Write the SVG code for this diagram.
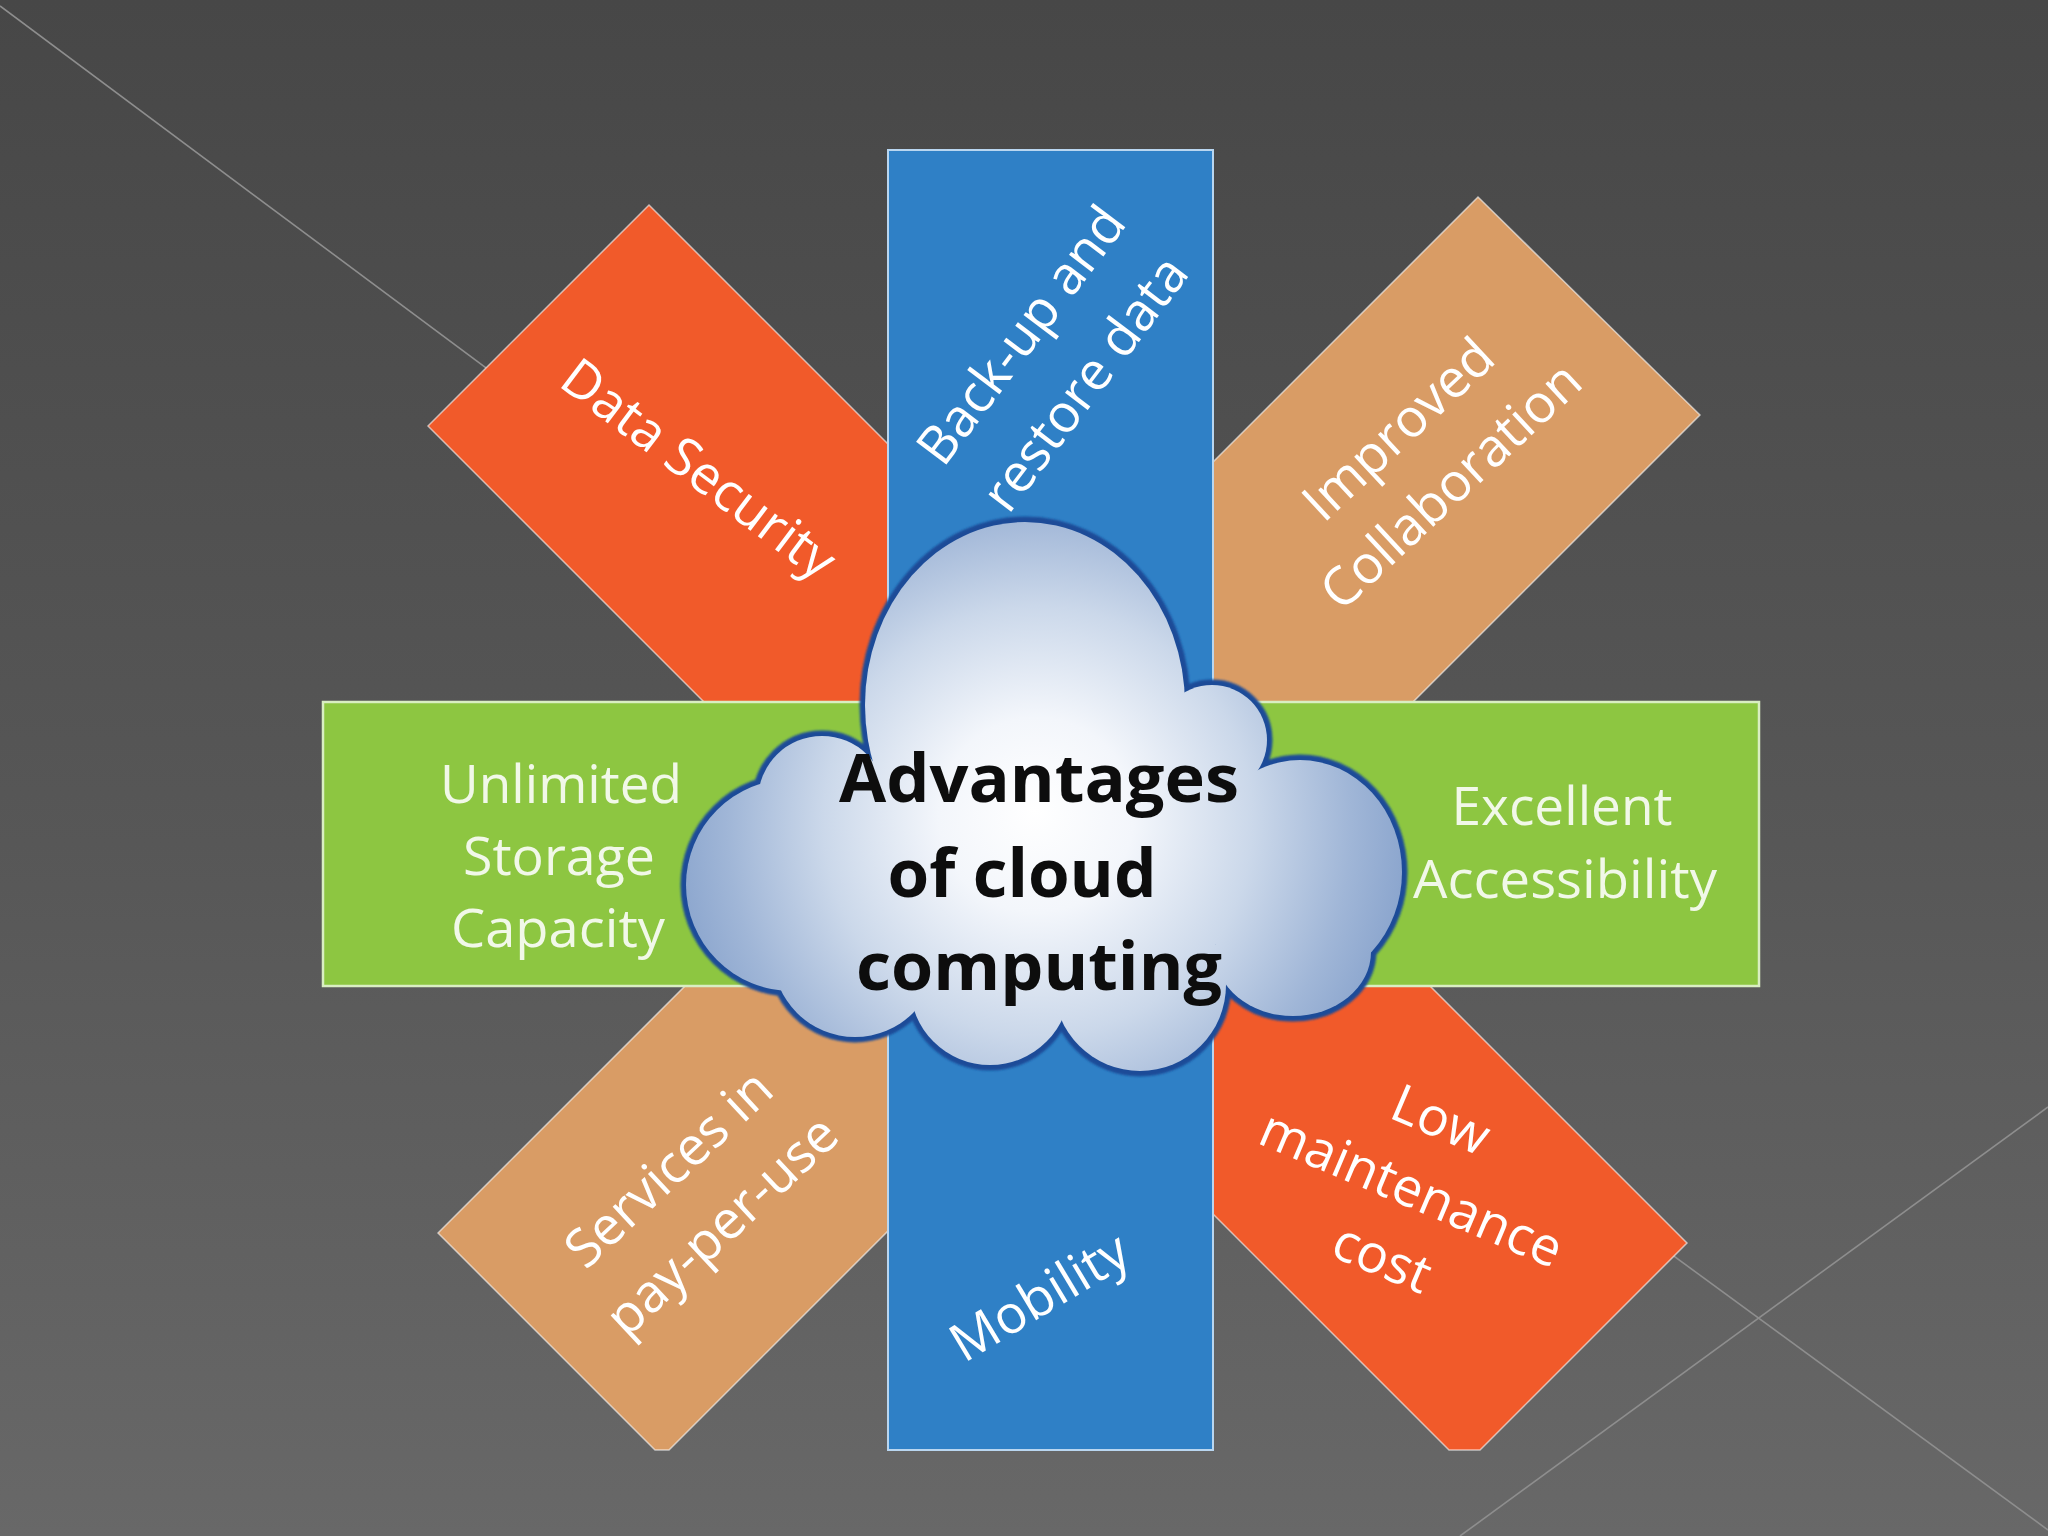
<svg xmlns="http://www.w3.org/2000/svg" width="2048" height="1536" viewBox="0 0 2048 1536">
<defs>
  <linearGradient id="bg" x1="0" y1="0" x2="0" y2="1">
    <stop offset="0" stop-color="#474747"/>
    <stop offset="0.55" stop-color="#575757"/>
    <stop offset="1" stop-color="#686868"/>
  </linearGradient>
  <radialGradient id="cloudFill" gradientUnits="userSpaceOnUse" cx="1040" cy="830" r="390" fx="1035" fy="810">
    <stop offset="0" stop-color="#ffffff"/>
    <stop offset="0.25" stop-color="#f3f6fb"/>
    <stop offset="0.55" stop-color="#cbd8ea"/>
    <stop offset="0.8" stop-color="#a0b6d7"/>
    <stop offset="1" stop-color="#839fca"/>
  </radialGradient>
  <filter id="soft" x="-5%" y="-5%" width="110%" height="110%">
    <feGaussianBlur stdDeviation="1.2"/>
  </filter>
  <g id="cloudShapes">
    <ellipse cx="1025" cy="705" rx="160" ry="183"/>
    <circle cx="1212" cy="740" r="55"/>
    <ellipse cx="1300" cy="872" rx="102" ry="112"/>
    <ellipse cx="1293" cy="952" rx="78" ry="64"/>
    <circle cx="1140" cy="985" r="86"/>
    <circle cx="990" cy="985" r="80"/>
    <circle cx="855" cy="955" r="82"/>
    <circle cx="792" cy="885" r="106"/>
    <circle cx="822" cy="800" r="64"/>
  </g>
  <style>
    .lbl { font-family: "Open Sans", "Noto Sans", "DejaVu Sans", sans-serif; font-size: 53px; fill: #ffffff; text-anchor: middle; }
    .glbl { fill: #f1f8e8; }
    .ctr { font-family: "Open Sans", "Noto Sans", "DejaVu Sans", sans-serif; font-weight: 700; font-size: 66px; fill: #0d0d0d; text-anchor: middle; }
    .bgline { stroke: #8e8e8e; stroke-width: 1.6; fill: none; }
    .orange { fill: #f15a2a; }
    .tan { fill: #d99c65; }
    .edge { stroke: #ffffff; stroke-opacity: 0.6; stroke-width: 1.5; }
  </style>
</defs>

<g id="background">
  <rect x="0" y="0" width="2048" height="1536" fill="url(#bg)"/>
  <line class="bgline" x1="0" y1="6" x2="560" y2="423"/>
  <line class="bgline" x1="1460" y1="1536" x2="2048" y2="1107"/>
  <line class="bgline" x1="1600" y1="1202" x2="2048" y2="1530"/>
</g>

<g id="connectors"></g>

<g id="node-data-security">
  <polygon class="orange edge" points="649,205 1069,625 848,846 428,426"/>
  <text class="lbl" transform="translate(698,470) rotate(37)" x="0" y="17">Data Security</text>
</g>

<g id="node-improved-collaboration">
  <polygon class="tan edge" points="1478,197 1700,415 1270,845 1048,627"/>
  <g transform="translate(1425,458) rotate(-43)">
    <text class="lbl" x="0" y="-21">Improved</text>
    <text class="lbl" x="0" y="56">Collaboration</text>
  </g>
</g>

<g id="node-services-pay-per-use">
  <polygon class="tan edge" points="438,1233 838,833 1062,1057 669,1450 655,1450"/>
  <g transform="translate(696,1198) rotate(-43)">
    <text class="lbl" x="0" y="-22">Services in</text>
    <text class="lbl" x="0" y="56">pay-per-use</text>
  </g>
</g>

<g id="node-low-maintenance">
  <polygon class="orange edge" points="1687,1243 1277,833 1054,1055 1449,1450 1480,1450"/>
  <g transform="translate(1411,1190) rotate(23)">
    <text class="lbl" x="0" y="-58">Low</text>
    <text class="lbl" x="0" y="17">maintenance</text>
    <text class="lbl" x="0" y="92">cost</text>
  </g>
</g>

<g id="bar-vertical">
  <rect x="888" y="150" width="325" height="1300" fill="#2f80c6" stroke="#b9d6f0" stroke-width="2"/>
  <g id="node-backup-restore" transform="translate(1054,360) rotate(-53)">
    <text class="lbl" x="0" y="-23">Back-up and</text>
    <text class="lbl" x="0" y="57">restore data</text>
  </g>
  <g id="node-mobility">
    <text class="lbl" transform="translate(1040,1298) rotate(-31)" x="0" y="17">Mobility</text>
  </g>
</g>

<g id="bar-horizontal">
  <rect x="323" y="702" width="1436" height="284" fill="#8dc641" stroke="#d9eec2" stroke-width="2.5"/>
  <g id="node-unlimited-storage">
    <text class="lbl glbl" x="561" y="803" textLength="242" lengthAdjust="spacingAndGlyphs">Unlimited</text>
    <text class="lbl glbl" x="559" y="875" textLength="192" lengthAdjust="spacingAndGlyphs">Storage</text>
    <text class="lbl glbl" x="558" y="947" textLength="214" lengthAdjust="spacingAndGlyphs">Capacity</text>
  </g>
  <g id="node-excellent-accessibility">
    <text class="lbl glbl" x="1562" y="825" textLength="221" lengthAdjust="spacingAndGlyphs">Excellent</text>
    <text class="lbl glbl" x="1565" y="898" textLength="304" lengthAdjust="spacingAndGlyphs">Accessibility</text>
  </g>
</g>

<g id="node-cloud">
  <use href="#cloudShapes" fill="#1b4c98" stroke="#1b4c98" stroke-width="11" filter="url(#soft)"/>
  <use href="#cloudShapes" fill="url(#cloudFill)"/>
  <ellipse cx="1040" cy="860" rx="220" ry="140" fill="url(#cloudFill)"/>
  <text class="ctr" x="1039" y="802" textLength="400" lengthAdjust="spacingAndGlyphs">Advantages</text>
  <text class="ctr" x="1022" y="897" textLength="269" lengthAdjust="spacingAndGlyphs">of cloud</text>
  <text class="ctr" x="1039" y="990" textLength="366" lengthAdjust="spacingAndGlyphs">computing</text>
</g>
</svg>
